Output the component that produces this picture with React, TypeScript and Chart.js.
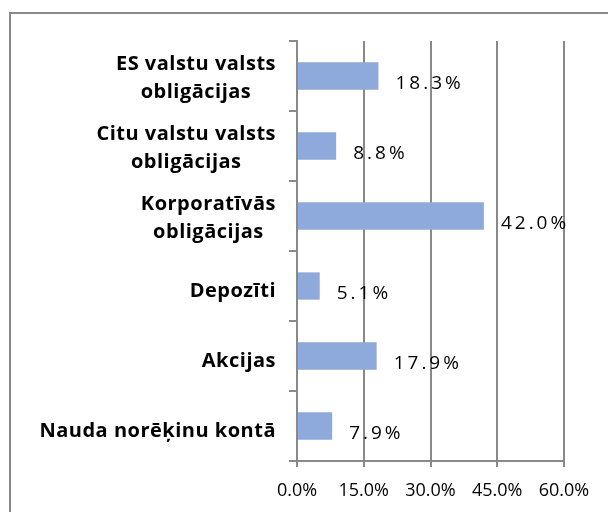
import React, { useEffect, useRef } from "react";
import { Chart, registerables } from "chart.js";

Chart.register(...registerables);

const categories: string[][] = [
  ["ES valstu valsts", "obligācijas"],
  ["Citu valstu valsts", "obligācijas"],
  ["Korporatīvās", "obligācijas"],
  ["Depozīti"],
  ["Akcijas"],
  ["Nauda norēķinu kontā"],
];
const values: number[] = [18.3, 8.8, 42.0, 5.1, 17.9, 7.9];
const xTicks: number[] = [0, 15, 30, 45, 60];

const BAR_COLOR = "#8EA9DB";
const LINE_COLOR = "#898989";
const FONT = "'Open Sans', 'Liberation Sans', Arial, sans-serif";

export default function App() {
  const ref = useRef<HTMLCanvasElement | null>(null);

  useEffect(() => {
    const canvas = ref.current;
    if (!canvas) return;

    const framePlugin = {
      id: "frame",
      beforeDraw(chart: any) {
        const ctx = chart.ctx;
        ctx.save();
        ctx.fillStyle = "#ffffff";
        ctx.fillRect(0, 0, chart.width, chart.height);
        ctx.strokeStyle = LINE_COLOR;
        ctx.lineWidth = 2;
        ctx.strokeRect(10, 13, 800, 700);
        ctx.restore();
      },
    };

    const labelsPlugin = {
      id: "customLabels",
      afterDraw(chart: any) {
        const ctx = chart.ctx;
        const yScale = chart.scales.y;
        const meta = chart.getDatasetMeta(0);
        ctx.save();
        // category labels
        ctx.font = "bold 20px " + FONT;
        (ctx as any).letterSpacing = "0.5px";
        ctx.fillStyle = "#000000";
        ctx.textAlign = "center";
        ctx.textBaseline = "alphabetic";
        const right = 276;
        categories.forEach((lines, i) => {
          const c = yScale.getPixelForTick(i);
          const w = Math.max(...lines.map((l) => ctx.measureText(l).width));
          const cx = right - w / 2;
          if (lines.length === 1) {
            ctx.fillText(lines[0], cx, c + 11);
          } else {
            ctx.fillText(lines[0], cx, c - 6);
            ctx.fillText(lines[1], cx, c + 22);
          }
        });
        // data labels
        ctx.font = "19px " + FONT;
        (ctx as any).letterSpacing = "3px";
        ctx.textAlign = "left";
        meta.data.forEach((bar: any, i: number) => {
          ctx.fillText(values[i].toFixed(1) + "%", bar.x + 17, bar.y + 13);
        });
        ctx.restore();
      },
    };

    const chart = new Chart(canvas, {
      type: "bar",
      data: {
        labels: categories.map((l) => l.join(" ")),
        datasets: [
          {
            data: values,
            backgroundColor: BAR_COLOR,
            borderWidth: 0,
            barPercentage: 0.39,
            categoryPercentage: 1,
          },
        ],
      },
      options: {
        indexAxis: "y",
        animation: false,
        responsive: false,
        layout: { padding: { top: 41, right: 44, left: 0, bottom: 0 } },
        plugins: {
          legend: { display: false },
          tooltip: { enabled: false },
        },
        scales: {
          x: {
            type: "linear",
            min: xTicks[0],
            max: xTicks[xTicks.length - 1],
            afterBuildTicks(scale: any) {
              scale.ticks = xTicks.map((v) => ({ value: v }));
            },
            afterFit(scale: any) {
              scale.height = 51;
            },
            grid: {
              color: LINE_COLOR,
              lineWidth: 2,
              drawTicks: true,
              tickLength: 6,
              tickColor: LINE_COLOR,
            },
            border: { display: true, color: LINE_COLOR, width: 2 },
            ticks: {
              color: "#000000",
              padding: 13,
              maxRotation: 0,
              font: { family: FONT, size: 18 },
              callback: (v: any) => Number(v).toFixed(1) + "%",
            },
          },
          y: {
            type: "category",
            afterFit(scale: any) {
              scale.width = 297;
            },
            grid: {
              drawOnChartArea: false,
              drawTicks: true,
              tickLength: 8,
              offset: true,
              color: LINE_COLOR,
              tickColor: LINE_COLOR,
              lineWidth: 2,
            },
            border: { display: true, color: LINE_COLOR, width: 2 },
            ticks: { display: false },
          },
        },
      },
      plugins: [framePlugin, labelsPlugin],
    } as any);

    return () => chart.destroy();
  }, []);

  return (
    <div style={{ position: "absolute", left: 0, top: 0, width: 608, height: 512 }}>
      <canvas ref={ref} width={608} height={512} style={{ width: 608, height: 512, display: "block" }} />
    </div>
  );
}
